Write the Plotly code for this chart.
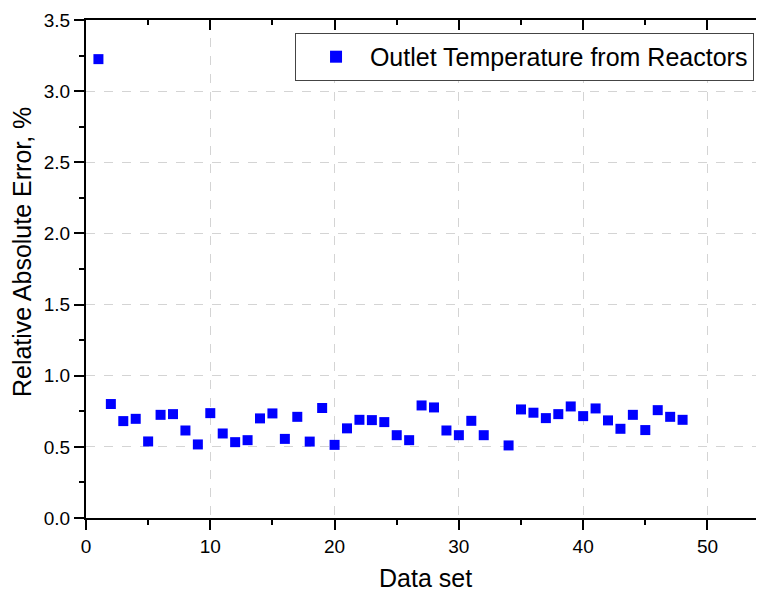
import plotly.graph_objects as go

# Data
data_set = [1, 2, 3, 4, 5, 6, 7, 8, 9, 10, 11, 12, 13, 14, 15, 16, 17, 18, 19, 20,
            21, 22, 23, 24, 25, 26, 27, 28, 29, 30, 31, 32, 34, 35, 36, 37, 38, 39,
            40, 41, 42, 43, 44, 45, 46, 47, 48]
rel_abs_error = [3.225, 0.801, 0.681, 0.697, 0.538, 0.725, 0.730, 0.615, 0.517, 0.737,
                 0.594, 0.533, 0.547, 0.700, 0.735, 0.556, 0.711, 0.537, 0.773, 0.514,
                 0.630, 0.690, 0.688, 0.674, 0.582, 0.547, 0.791, 0.777, 0.615, 0.582,
                 0.683, 0.582, 0.510, 0.763, 0.740, 0.702, 0.730, 0.784, 0.716, 0.770,
                 0.686, 0.627, 0.725, 0.618, 0.758, 0.711, 0.690]
series_name = "Outlet Temperature from Reactors"
x_title = "Data set"
y_title = "Relative Absolute Error, %"
x_ticks = [0, 10, 20, 30, 40, 50]
y_ticks = [0.0, 0.5, 1.0, 1.5, 2.0, 2.5, 3.0, 3.5]
y_tick_text = ["0.0", "0.5", "1.0", "1.5", "2.0", "2.5", "3.0", "3.5"]

FONT = "Arial, Liberation Sans, sans-serif"
XR = [0, 54.55]
YR = [0, 3.5]

fig = go.Figure()
fig.add_trace(go.Scatter(
    x=data_set, y=rel_abs_error, mode="markers",
    name="\u00a0\u00a0" + series_name,
    marker=dict(symbol="square", size=10, color="#0000FF", line=dict(width=0)),
))

grid = dict(showgrid=True, gridcolor="#d4d4d4", griddash="dash", gridwidth=1)

fig.update_layout(
    width=756, height=586,
    margin=dict(l=78, r=0, t=12, b=76),
    paper_bgcolor="white", plot_bgcolor="white",
    font=dict(family=FONT, color="black", size=19),
    showlegend=True,
    legend=dict(
        x=0.9853, y=0.974, xanchor="right", yanchor="top",
        bordercolor="#444444", borderwidth=1, bgcolor="white",
        font=dict(family=FONT, size=25, color="black"),
        itemsizing="constant", indentation=20,
    ),
    xaxis=dict(
        range=XR, tickvals=x_ticks, ticks="outside", ticklen=10, tickwidth=2,
        tickcolor="black", showline=True, linewidth=2, linecolor="black",
        zeroline=False, tickfont=dict(size=19),
        minor=dict(dtick=5, ticks="outside", ticklen=5, tickwidth=2,
                   tickcolor="black", showgrid=False),
        **grid,
    ),
    yaxis=dict(
        range=YR, tickvals=y_ticks, ticktext=y_tick_text, ticks="outside",
        ticklen=10, tickwidth=2, tickcolor="black", showline=True, linewidth=2,
        linecolor="black", zeroline=False, tickfont=dict(size=19),
        minor=dict(dtick=0.25, ticks="outside", ticklen=5, tickwidth=2,
                   tickcolor="black", showgrid=False),
        **grid,
    ),
    xaxis2=dict(
        range=XR, overlaying="x", side="top", anchor="y", tickvals=x_ticks,
        ticks="inside", ticklen=10, tickwidth=2, tickcolor="black",
        showticklabels=False, showline=True, linewidth=2, linecolor="black",
        showgrid=False, zeroline=False,
        minor=dict(dtick=5, ticks="inside", ticklen=5, tickwidth=2,
                   tickcolor="black", showgrid=False),
    ),
    yaxis2=dict(
        range=YR, overlaying="y", side="right", anchor="x", tickvals=y_ticks,
        ticks="inside", ticklen=5, tickwidth=2, tickcolor="black",
        showticklabels=False, showline=False, showgrid=False, zeroline=False,
    ),
    annotations=[
        dict(text=x_title, xref="paper", yref="paper", x=0.5, y=-0.121,
             xanchor="center", yanchor="middle", showarrow=False,
             font=dict(family=FONT, size=25, color="black")),
        dict(text=y_title, xref="paper", yref="paper", x=-0.0944, y=0.534,
             xanchor="center", yanchor="middle", showarrow=False, textangle=-90,
             font=dict(family=FONT, size=25, color="black")),
    ],
)

# invisible trace so the mirrored axes are always drawn
fig.add_trace(go.Scatter(x=[None], y=[None], xaxis="x2", yaxis="y2",
                         showlegend=False, hoverinfo="skip", mode="markers"))

fig.write_html("out.html")
